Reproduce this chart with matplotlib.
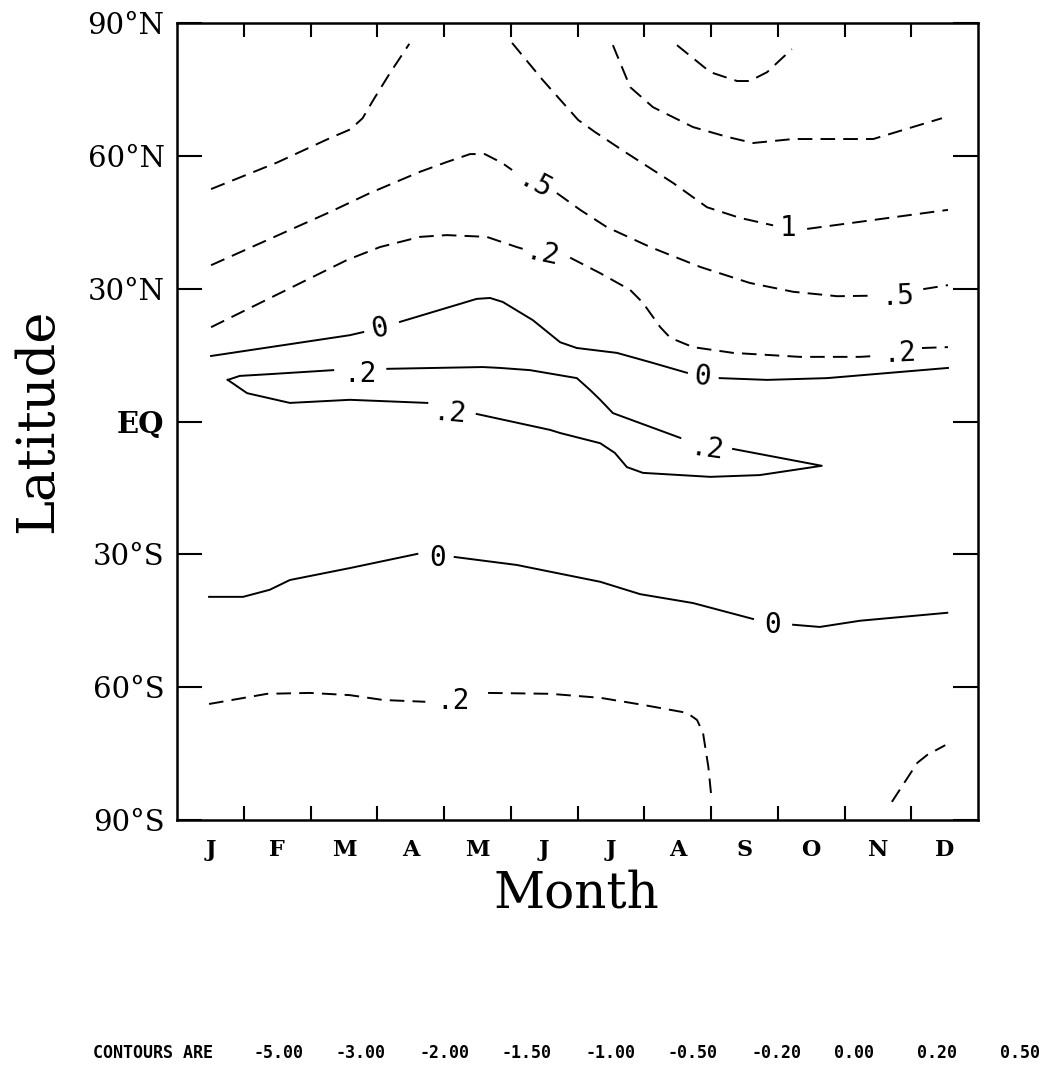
#!/usr/bin/env python3
"""Zonal-mean anomaly, latitude vs month, drawn as labelled contour lines."""
import numpy as np
import matplotlib
matplotlib.use("Agg")
import matplotlib.pyplot as plt

nan = np.nan

MONTHS = ["J", "F", "M", "A", "M", "J", "J", "A", "S", "O", "N", "D"]
LAT_TICKS = [-90, -60, -30, 0, 30, 60, 90]
LAT_LABELS = ["90°S", "60°S", "30°S", "EQ", "30°N", "60°N", "90°N"]
LEVELS = [-5.0, -3.0, -2.0, -1.5, -1.0, -0.5, -0.2, 0.0, 0.2, 0.5]

# contour lines (month, latitude); nan marks a break for an inline label
c_m20_mon = [7.49, 7.99, 8.39, 8.58, 8.84, 9.21]
c_m20_lat = [85.0, 78.9, 76.9, 76.9, 78.9, 84.1]

c_m15_mon = [6.53, 6.79, 7.13, 7.73, 8.24, 8.63, 9.23, 10.43, 11.46]
c_m15_lat = [85.0, 75.5, 71.0, 66.5, 64.3, 62.9, 63.8, 63.8, 68.5]

c_m10_mon = [0.51, 1.5, 2.29, 2.6, 2.78, 2.94, 3.19, 3.48, nan,
             5.02, 5.48, 6.01, 6.26, 6.74, 7.43, 7.94, 8.43, 8.93, nan,
             9.44, 10.23, 11.55]
c_m10_lat = [52.5, 58.5, 64.0, 66.0, 68.5, 72.6, 78.7, 85.3, nan,
             85.5, 77.1, 68.1, 65.4, 60.6, 53.9, 48.4, 46.0, 44.3, nan,
             43.5, 45.1, 47.8]

c_m05_mon = [0.51, 2.29, 2.89, 3.64, 4.04, 4.39, 4.61, 4.87, 5.02, nan,
             5.69, 6.04, 6.44, 7.09, 7.84, 8.58, 9.23, 9.89, 10.35, nan,
             11.18, 11.55]
c_m05_lat = [35.3, 47.3, 51.6, 56.4, 58.6, 60.4, 60.4, 58.4, 56.8, nan,
             51.6, 47.8, 43.9, 39.4, 34.9, 31.3, 29.3, 28.3, 28.4, nan,
             29.9, 30.8]

c_m02n_mon = [0.51, 2.55, 3.04, 3.64, 4.04, 4.64, 5.09, 5.18, nan,
              5.89, 6.34, 6.79, 6.98, 7.24, 7.39, 7.73, 8.33, 9.33, 10.23, 10.46, nan,
              11.16, 11.55]
c_m02n_lat = [21.3, 36.5, 39.4, 41.7, 42.1, 41.7, 39.4, 39.0, nan,
              37.0, 33.5, 29.7, 26.8, 21.3, 18.9, 16.8, 15.5, 14.6, 14.6, 14.8, nan,
              16.6, 16.8]

c_0n_mon = [0.51, 2.59, 2.79, nan, 3.34, 4.49, 4.69, 4.88, 5.33, 5.74, 5.99,
            6.59, 7.09, 7.64, nan, 8.13, 8.84, 9.74, 11.55]
c_0n_lat = [14.8, 19.5, 20.2, nan, 22.5, 27.7, 27.9, 27.0, 22.9, 17.9, 16.6,
            15.5, 13.4, 11.0, nan, 9.8, 9.4, 9.8, 12.1]

c_p02_mon = [0.76, 0.94, 1.39, 2.34, nan, 3.15, 4.58, 4.84, 5.29, 5.99, 6.19,
             6.34, 6.53, 7.54, nan, 8.33, 9.66, 8.73, 7.99, 6.98, 6.74, 6.56,
             6.34, 5.74, 5.59, 4.49, nan, 3.75, 2.59, 1.69, 1.05, 0.76]
c_p02_lat = [9.4, 10.3, 10.7, 11.6, nan, 11.9, 12.3, 12.1, 11.6, 9.8, 7.1,
             4.9, 1.9, -3.7, nan, -6.2, -10.0, -12.1, -12.5, -11.6, -10.3, -7.1,
             -4.9, -2.6, -1.9, 1.7, nan, 4.2, 4.9, 4.2, 6.4, 9.4]

c_0s_mon = [0.48, 0.99, 1.39, 1.69, 2.59, 3.60, nan, 4.16, 5.09, 6.34, 6.94,
            7.73, 8.63, nan, 9.23, 9.63, 10.23, 11.54]
c_0s_lat = [-39.6, -39.6, -38.0, -35.8, -33.1, -29.9, nan, -30.6, -32.4, -36.2,
            -39.0, -41.0, -44.6, nan, -45.9, -46.4, -45.0, -43.2]

c_m02s_mon = [0.48, 1.35, 1.99, 2.59, 3.09, 3.72, nan, 4.66, 5.59, 6.34, 6.98,
              7.64, 7.79, 7.88, 7.96, 8.01]
c_m02s_lat = [-63.8, -61.5, -61.3, -61.8, -62.9, -63.3, nan, -61.3, -61.5, -62.4,
              -64.0, -65.8, -67.4, -70.3, -78.0, -85.5]

c_m02e_mon = [10.71, 11.09, 11.24, 11.51]
c_m02e_lat = [-85.9, -77.1, -75.3, -73.1]

CONTOURS = [
    (-2.0, c_m20_mon, c_m20_lat),
    (-1.5, c_m15_mon, c_m15_lat),
    (-1.0, c_m10_mon, c_m10_lat),
    (-0.5, c_m05_mon, c_m05_lat),
    (-0.2, c_m02n_mon, c_m02n_lat),
    (0.0, c_0n_mon, c_0n_lat),
    (0.2, c_p02_mon, c_p02_lat),
    (0.0, c_0s_mon, c_0s_lat),
    (-0.2, c_m02s_mon, c_m02s_lat),
    (-0.2, c_m02e_mon, c_m02e_lat),
]

# inline contour labels
LABEL_MON = [5.36, 5.48, 9.16, 10.79, 10.83, 2.74, 3.04, 7.87, 4.09, 7.94, 3.90, 8.93, 4.13]
LABEL_LAT = [53.2, 37.6, 43.8, 28.3, 15.4, 10.8, 21.1, 10.0, 1.8, -6.3, -30.8, -46.0, -63.1]
LABEL_TXT = [".5", ".2", "1", ".5", ".2", ".2", "0", "0", ".2", ".2", "0", "0", ".2"]
LABEL_ROT = [-28, -12, 0, 3, 3, 0, 12, -5, -5, -8, 0, 0, 0]


def main():
    fig = plt.figure(figsize=(10.62, 10.91), dpi=100)
    ax = fig.add_axes([0.1667, 0.2484, 0.7542, 0.7305])

    for level, mon, lat in CONTOURS:
        if level < 0:
            ax.plot(mon, lat, color="black", lw=1.4, dashes=(7.5, 4.2))
        else:
            ax.plot(mon, lat, color="black", lw=1.4)

    for m, la, t, r in zip(LABEL_MON, LABEL_LAT, LABEL_TXT, LABEL_ROT):
        ax.text(m, la, t, ha="center", va="center", rotation=r,
                family="DejaVu Sans Mono", fontsize=20)

    ax.set_xlim(0, 12)
    ax.set_ylim(-90, 90)
    for s in ax.spines.values():
        s.set_linewidth(1.8)

    ax.set_xticks(range(1, 12))
    ax.set_xticklabels([])
    ax.set_xticks(np.arange(12) + 0.5, minor=True)
    ax.set_xticklabels(MONTHS, minor=True, family="DejaVu Serif",
                       fontweight="bold", fontsize=16)
    ax.tick_params(axis="x", which="major", direction="in", length=10,
                   width=1.5, top=True, bottom=True)
    ax.tick_params(axis="x", which="minor", length=0, pad=14)

    ax.set_yticks(LAT_TICKS)
    ax.set_yticklabels(LAT_LABELS, family="DejaVu Serif", fontsize=21)
    ax.get_yticklabels()[3].set_fontweight("bold")
    ax.tick_params(axis="y", direction="in", length=18, width=1.5,
                   left=True, right=True, pad=9)

    fig.text(52 / 1062, 1 - 421 / 1091, "Latitude", rotation=90,
             rotation_mode="anchor", ha="center", va="baseline",
             family="DejaVu Serif", fontsize=38)
    fig.text(576 / 1062, 1 - 908 / 1091, "Month", ha="center", va="baseline",
             family="DejaVu Serif", fontsize=36)

    y_txt = 1 - 1058 / 1091
    fig.text(93 / 1062, y_txt, "CONTOURS ARE", ha="left", va="baseline",
             family="DejaVu Sans Mono", fontweight="bold", fontsize=12)
    for i, lv in enumerate(LEVELS):
        fig.text((253 + i * 83) / 1062, y_txt, f"{lv:.2f}", ha="left",
                 va="baseline", family="DejaVu Sans Mono",
                 fontweight="bold", fontsize=12)

    fig.savefig("out.png", dpi=100)


if __name__ == "__main__":
    main()
